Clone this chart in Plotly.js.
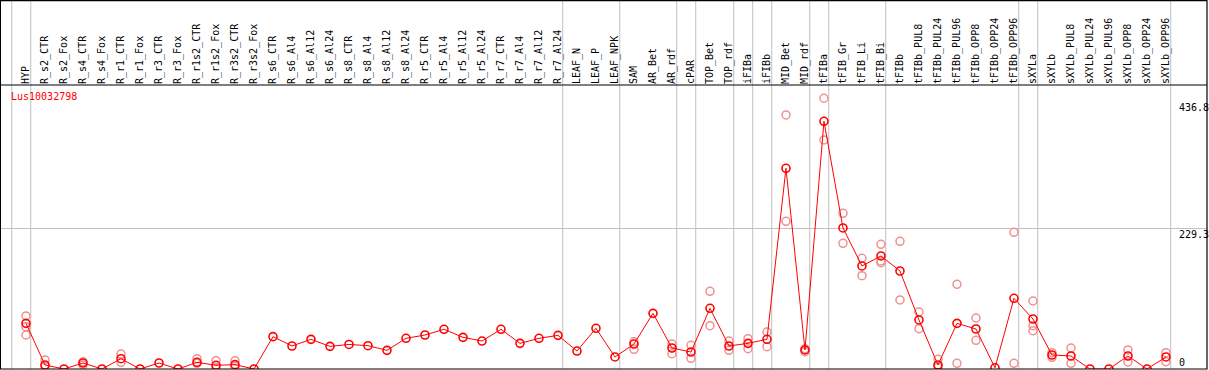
<!DOCTYPE html>
<html>
<head>
<meta charset="utf-8">
<script src="https://cdn.plot.ly/plotly-3.0.1.min.js"></script>
<style>html,body{margin:0;padding:0;background:#fff;}#chart{width:1209px;height:370px;}</style>
</head>
<body>
<div id="chart"></div>
<script>
const geneName = "Lus10032798";
const categories = ["HYP","R_s2_CTR","R_s2_Fox","R_s4_CTR","R_s4_Fox","R_r1_CTR","R_r1_Fox","R_r3_CTR","R_r3_Fox","R_r1s2_CTR","R_r1s2_Fox","R_r3s2_CTR","R_r3s2_Fox","R_s6_CTR","R_s6_Al4","R_s6_Al12","R_s6_Al24","R_s8_CTR","R_s8_Al4","R_s8_Al12","R_s8_Al24","R_r5_CTR","R_r5_Al4","R_r5_Al12","R_r5_Al24","R_r7_CTR","R_r7_Al4","R_r7_Al12","R_r7_Al24","LEAF_N","LEAF_P","LEAF_NPK","SAM","AR_Bet","AR_rdf","cPAR","TOP_Bet","TOP_rdf","iFIBa","iFIBb","MID_Bet","MID_rdf","tFIBa","tFIB_Gr","tFIB_Li","tFIB_Bi","tFIBb","tFIBb_PUL8","tFIBb_PUL24","tFIBb_PUL96","tFIBb_OPP8","tFIBb_OPP24","tFIBb_OPP96","sXYLa","sXYLb","sXYLb_PUL8","sXYLb_PUL24","sXYLb_PUL96","sXYLb_OPP8","sXYLb_OPP24","sXYLb_OPP96"];
const meanValues = [74.4,6.5,0,9.8,0,16.8,0,9.8,0,10.9,6,7.1,0,52.7,37.5,48.3,36.9,40,38,30.4,50,55.4,64.7,51.6,45.6,64.7,41.8,50,54.8,29.3,66.3,19.6,40.7,90.7,34.2,27.7,98.9,37.5,41.8,48.4,327.1,31,403.7,229.8,167.9,184.2,159.7,79.9,6.5,74.4,65.2,2,115.2,81.5,22.8,21.2,0,0,21.2,0,19.6];
const rep1 = [86.4,14.7,null,11.7,null,24.4,null,null,null,16.8,13.6,13.6,null,null,null,null,null,null,null,null,null,null,null,null,null,null,null,null,null,null,null,null,44.6,null,40.7,38.6,126.6,45.6,49.4,60.3,414,28.2,441.2,253.7,180.4,203.2,208.1,92.9,15.8,138,83.1,null,222.7,110.8,26.6,34.2,null,null,31,null,26.6];
const rep2 = [55.4,4,null,6.5,null,10.9,null,null,null,9.2,3,4,null,null,null,null,null,null,null,null,null,null,null,null,null,null,null,null,null,null,null,null,32.1,null,24.9,17.4,70.6,30.4,33.1,36.4,240.7,33,373.2,204.8,152.1,173.2,112.5,65.7,3,9.2,46.7,null,9.2,70.6,19,9.2,null,null,11.4,null,11.9];
const rep3 = [69,null,null,null,null,null,null,null,null,null,null,null,null,null,null,null,null,null,null,null,null,null,null,null,null,null,null,null,null,null,null,null,null,null,null,null,null,null,null,null,null,null,null,null,null,176,null,null,null,null,null,null,null,62.5,null,null,null,null,null,null,null];
const groupEnds = [-1,0,28,31,34,35,37,38,39,41,42,45,52,53,60];
const yTickValues = [0,229.3,436.8];
const yTickLabels = ["0","229.3","436.8"];

const W = 1209, H = 370;
const M = {l:1, r:2, t:85, b:1};
const plotH = H - M.t - M.b;
const topFrac = 1 + M.t / plotH;
const idx = categories.map((c,i)=>i);
const mono = "DejaVu Sans Mono, monospace";
const grey = "#c0c0c0";

function repTrace(arr){
  return {x: idx, y: arr, type:"scatter", mode:"markers", cliponaxis:true,
    marker:{symbol:"circle-open", size:8, color:"#f09090", line:{width:1.5, color:"#f09090"}},
    hoverinfo:"skip", showlegend:false};
}
const traces = [repTrace(rep1), repTrace(rep2), repTrace(rep3),
  {x: idx, y: meanValues, type:"scatter", mode:"lines+markers", cliponaxis:true,
   line:{color:"#ff0000", width:1},
   marker:{symbol:"circle-open", size:8, color:"#ff0000", line:{width:1.6, color:"#ff0000"}},
   showlegend:false}];

const shapes = groupEnds.map(g=>({type:"line", xref:"x", yref:"paper", x0:g+0.25, x1:g+0.25, y0:0, y1:topFrac, line:{color:grey, width:1}, layer:"below"}));
shapes.push({type:"line", xref:"paper", yref:"paper", x0:-0.001, x1:1, y0:1, y1:1, line:{color:"#000", width:1.2}});
shapes.push({type:"rect", xref:"paper", yref:"paper", x0:-0.0005, x1:1, y0:0, y1:topFrac-0.002, line:{color:"#000", width:1.2}});

const annotations = [{xref:"paper", yref:"paper", x:0.0066, y:1-12/plotH, xanchor:"left", yanchor:"middle", text:geneName, showarrow:false, font:{family:mono, size:10, color:"#ff0000"}}];
yTickValues.forEach((v,i)=>{
  annotations.push({xref:"paper", yref:"y", x:(1178-M.l)/(W-M.l-M.r), y:v, xanchor:"left", yanchor: v===0 ? "bottom" : "top", text:yTickLabels[i], showarrow:false, font:{family:mono, size:10, color:"#000"}, borderpad:0});
});

const layout = {
  width:W, height:H, margin:M, paper_bgcolor:"#fff", plot_bgcolor:"#fff",
  showlegend:false,
  xaxis:{type:"linear", range:[-1.316,62.16], tickmode:"array", tickvals:idx, ticktext:categories, side:"top", tickangle:-90, ticks:"", showgrid:false, zeroline:false, showline:false, tickfont:{family:mono, size:10, color:"#000"}, fixedrange:true},
  yaxis:{range:[0,462.8], tickmode:"array", tickvals:[229.3], showticklabels:false, showgrid:true, gridcolor:grey, gridwidth:1, zeroline:false, showline:false, ticks:""},
  shapes:shapes, annotations:annotations
};
Plotly.newPlot("chart", traces, layout, {staticPlot:true});
</script>
</body>
</html>
